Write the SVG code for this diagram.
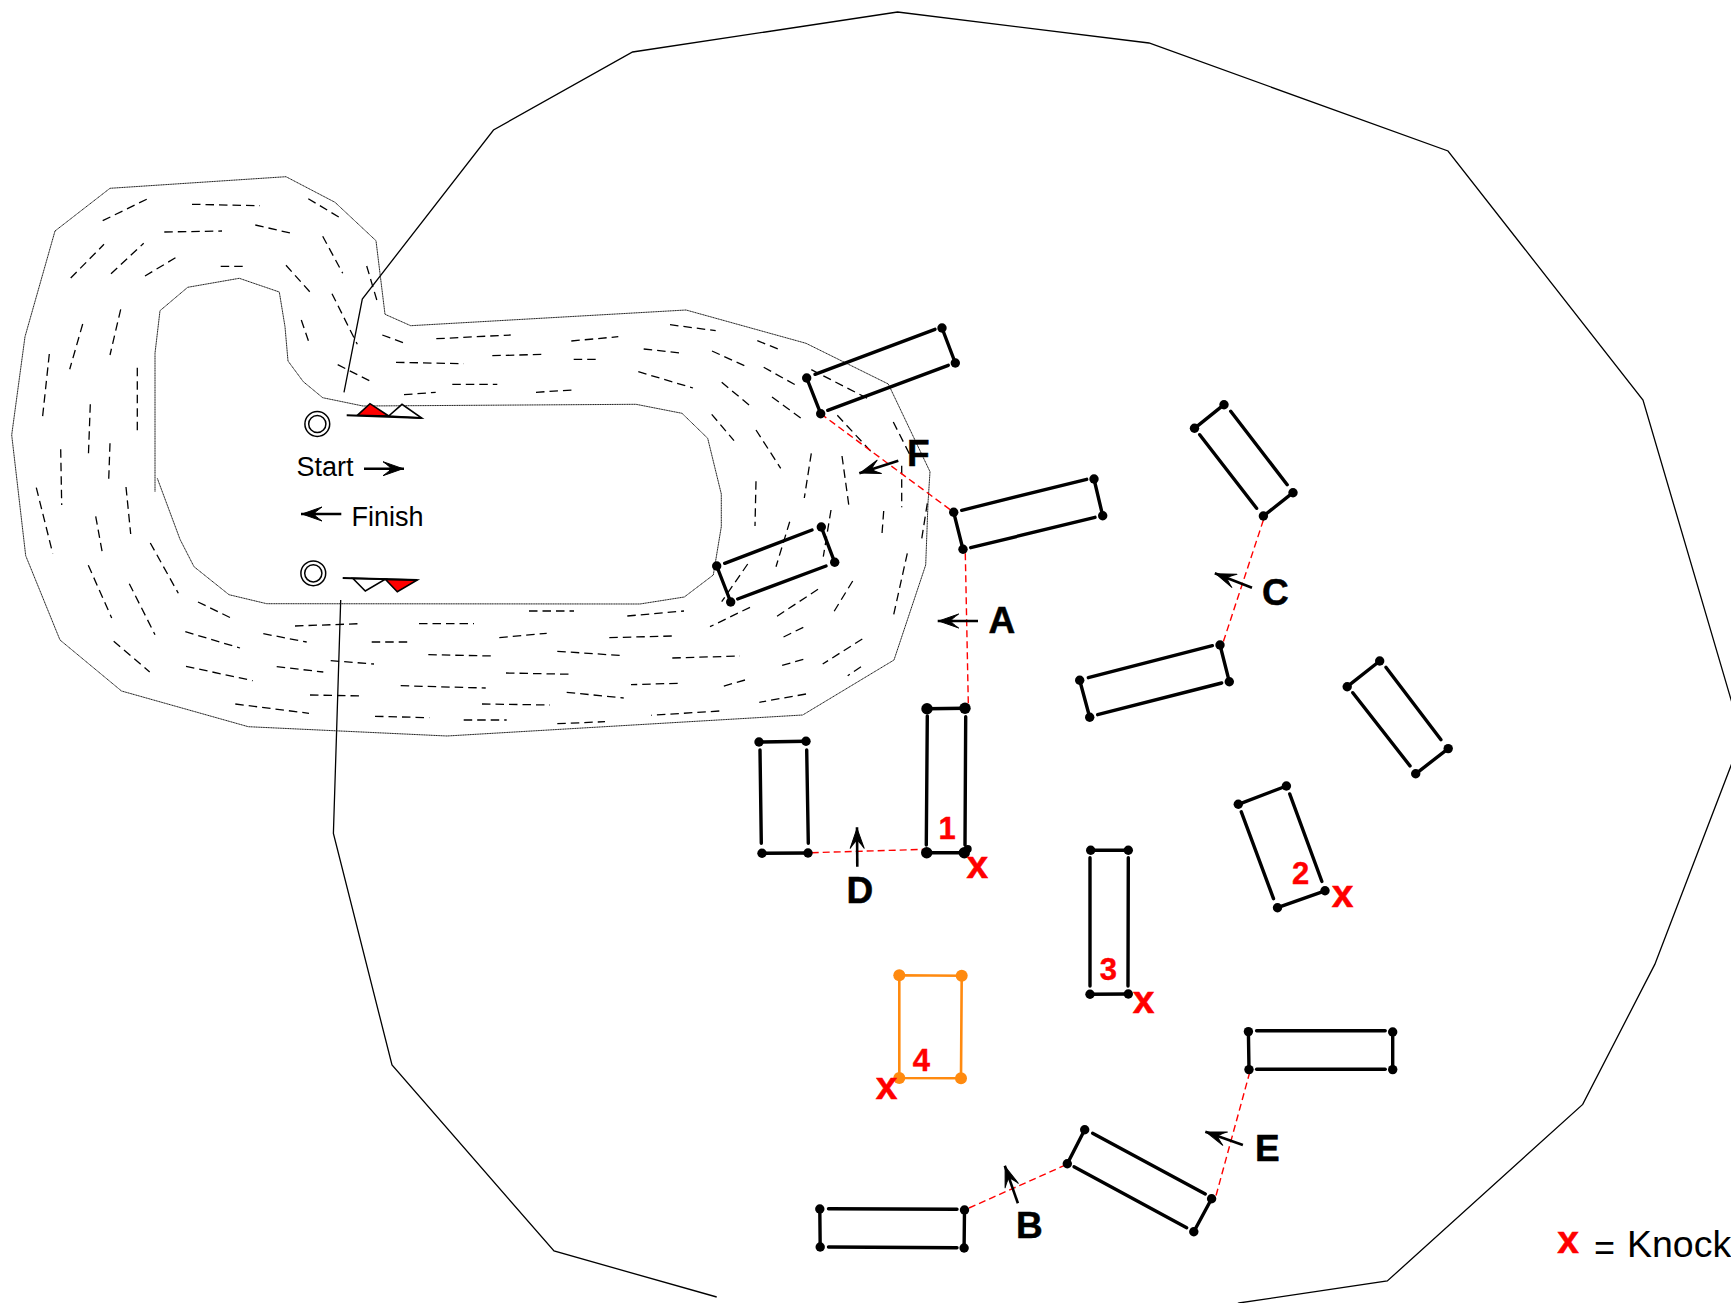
<svg xmlns="http://www.w3.org/2000/svg" width="1731" height="1303" viewBox="0 0 1731 1303">
<style>
text{font-family:"Liberation Sans",Arial,sans-serif}
.bg{fill:#fff}
.outline{fill:none;stroke:#000;stroke-width:1.3;stroke-linejoin:miter}
.track{fill:none;stroke:#222;stroke-width:1;stroke-dasharray:1.4 .3}
.dash{fill:none;stroke:#000;stroke-width:1.3;stroke-dasharray:8.5 5}
.stall line{stroke:#000;stroke-width:3.4;stroke-linecap:round}
.stall circle{fill:#000}
.orange path{fill:none;stroke:#ff8a0f;stroke-width:2.6}
.orange circle{fill:#ff8a0f}
.knock{fill:none;stroke:#f00;stroke-width:1.4;stroke-dasharray:7 4}
.arr{fill:none;stroke:#000;stroke-width:2.6;marker-end:url(#head)}
.lab{font-weight:bold;font-size:37px;fill:#000;stroke:#000;stroke-width:.5}
.num{font-weight:bold;font-size:31px;fill:#f00;stroke:#f00;stroke-width:.4;text-anchor:middle}
.x{font-weight:bold;font-size:39px;fill:#f00;stroke:#f00;stroke-width:.5;text-anchor:middle}
.plain{font-size:27px;fill:#000}
.ring{fill:none;stroke:#000;stroke-width:1.5}
.flag{stroke:#000;stroke-width:1.6;stroke-linejoin:miter}
.flagline{stroke:#000;stroke-width:2;fill:none}
</style>
<defs>
<marker id="head" markerUnits="userSpaceOnUse" markerWidth="26" markerHeight="20" refX="23" refY="10" orient="auto">
<path d="M22 10 L2 3 Q9 8 10 10 Q9 12 2 17 Z" fill="#000" stroke="#000" stroke-width="1" stroke-linejoin="round"/>
</marker>
</defs>
<rect class="bg" width="1731" height="1303"/>
<g id="boundary">
<polyline class="outline" points="344,392.3 362.3,299 493.5,130 632.6,52 897.6,12 1149,43 1448,151 1643,400 1742,737 1654.8,964.4 1582.7,1104.4 1387.3,1281 1239,1303 1200,1320"/>
<polyline class="outline" points="340.7,600 333.4,833.5 392,1065 554,1251 716.7,1297"/>
</g>
<g id="track">
<polyline class="track" points="55,231 110,188.3 286,176.7 335,202.3 376,240.7 385,314.3 410.7,325.7 686,310 806,343.3 888.3,384 930,471.7 928,503 925.7,565 894,660 802.7,715 447,736 248.3,726.7 121.5,691 60,640 25.7,555.7 11.7,435 25,336.7 55,231"/>
<polyline class="track" points="155,491.7 155,353.3 160,310.7 187.7,287.3 239.3,278.3 279.3,292 285,326.7 288,361 303.3,381.7 322.7,397.7 363,406 636,404.3 682,413.3 707.7,438.3 721.3,494 721.3,526.7 713.3,575 684.3,597 640,604 266.7,603.7 229,594.7 194,566.7 180,539.3 157.3,478.3"/>
</g>
<g id="track-dashes" class="dash">
<path d="M102.7 220.7L150.7 197.3M192 204.3L260 205.7M308.3 198.7L340 217.7M164.3 232L222 231M255.3 225L290.3 233M322.7 236.3L342.7 273.3M70.7 278L104 244.3M111 273.7L143.7 243.3M145 276L176.7 257M220.7 266.3L246 266.3M286 265.3L310 292M366.7 266L377.3 301.7M332 293.7L357.3 344.3M301.3 320L308.7 341.7M120.7 309.3L110 355M82.7 324L69.7 369.3M49.3 354L42.3 419.3M137.3 367.7L137.3 435.3M90.3 404.3L88.3 458.3M110 443.3L108.7 480M60.7 449.3L61.7 505M36.3 487.7L52.7 553.3M126 487L130.7 534M95.7 516.3L102.3 552.7M150.3 543L178.3 593.3M88.3 565.3L111.7 618M129.3 583.7L155 634.7M198 602L231 618M295 626L359.3 623.7M263.3 633.7L306.7 642M185.3 631.7L240 648M371.7 642L408.7 642M419 623.7L474 623.7M330.7 660.7L374 664M276.7 666.7L323.3 672M113.7 641.3L149.7 672M186 666.3L252.7 680.7M428.3 654.7L493.3 656M310 695L362.7 696M400.7 685.7L485.7 688M235.3 704L309 713.3M375 716.3L429.3 717.7M463.7 720L506.7 720M529 611L574 611M627.3 616L684 611M499.3 637.7L546.7 633.3M609.3 637.7L672 636M557.3 651.3L624 655.7M672.3 658L740 656"/>
<path d="M436.3 338.7L510.7 335M571.3 341L618.3 336.7M670 324.7L715.7 330.7M757.3 340.7L778.3 349M492.3 355.7L545 354.3M396 362.3L463.7 363.7M573.7 359.3L600 359.3M643.7 349L680 353M712 351L745.7 366.3M763.7 367.3L795 384.7M811.3 369.7L870.7 400M452.3 384.3L497.3 384.3M536 392.3L573 390M638.3 371.7L693 388M721.7 382.3L750 405.7M772 397L801.7 418.7M837.3 415.3L873.3 454M893.3 422L910 455M711.7 414.3L734 440.7M756 430L780.7 468.3M811.3 453.3L804.3 498M842 456L849.3 508.7M901.7 465.7L901.7 507.3M756 481.3L755 526M883.7 511L881.7 537.7M927.3 503.3L921.7 539M831 510L823.3 556.7M789.7 521.7L776 566.7M747.7 564L721.7 601.7M907.3 553.3L892.7 619M852.7 581L833.3 612.7M818 589.3L773.3 618.7M750 607.3L710 626.7M803.3 627.3L780 638.7M862.3 639L822.7 664M803.3 659.3L779 666.3M506 673L572.7 674.3M861 666.7L847.7 675.7M745 680L719.3 687.3M677.7 683.3L631 684.7M566.7 692.3L623.7 698M482 704L550 705M806 694L759.3 702.3M719.3 711L651.3 715.3M557.3 723.7L605 721.7M382.3 335L407 344M337.7 364.7L369.3 380.7M404 394.7L435.7 392.3"/>
</g>
<g id="start-gate">
<circle class="ring" cx="317.3" cy="424" r="12.4"/><circle class="ring" cx="317.3" cy="424" r="8.6"/>
<polygon class="flag" fill="#f00" points="357.3,415.3 370,403.7 388.7,416"/>
<polygon class="flag" fill="#fff" points="388.7,416 402,404.3 421.7,418"/>
<line class="flagline" x1="346.7" y1="415.3" x2="421.7" y2="418"/>
<text class="plain" x="296.5" y="476">Start</text>
</g>
<g id="finish-gate">
<circle class="ring" cx="313.3" cy="573.3" r="12.4"/><circle class="ring" cx="313.3" cy="573.3" r="8.6"/>
<polygon class="flag" fill="#fff" points="352.7,578.3 365.3,591 385.3,579.3"/>
<polygon class="flag" fill="#f00" points="385.3,579.3 397.3,591.7 417.3,580"/>
<line class="flagline" x1="342.7" y1="578" x2="417.3" y2="580"/>
<text class="plain" x="351.5" y="526">Finish</text>
</g>
<g id="connectors">
<line class="knock" x1="820.7" y1="413.7" x2="953.7" y2="512.3"/>
<line class="knock" x1="965.3" y1="553.3" x2="968.3" y2="703.3"/>
<line class="knock" x1="1263.4" y1="520" x2="1222.8" y2="643.3"/>
<line class="knock" x1="811.7" y1="852.7" x2="926.7" y2="849.3"/>
<line class="knock" x1="1249.8" y1="1072" x2="1215.9" y2="1196"/>
<line class="knock" x1="969" y1="1208" x2="1064" y2="1165.7"/>
<line class="arr" x1="978" y1="621" x2="937.7" y2="621"/>
<line class="arr" x1="898.3" y1="460.7" x2="859.3" y2="473.3"/>
<line class="arr" x1="1252" y1="587.7" x2="1214.8" y2="573.3"/>
<line class="arr" x1="857.3" y1="866.7" x2="857" y2="827.3"/>
<line class="arr" x1="1242.9" y1="1145" x2="1205.3" y2="1131.7"/>
<line class="arr" x1="1017.9" y1="1203.3" x2="1004.8" y2="1165.7"/>
<line class="arr" x1="364" y1="468.7" x2="404" y2="468.7"/>
<line class="arr" x1="341.3" y1="514" x2="301" y2="514"/>
</g>
<g id="stall-f1" class="stall">
<line x1="806.7" y1="378" x2="820.7" y2="413.7"/><line x1="942" y1="328" x2="955.3" y2="363"/>
<line x1="815" y1="374.3" x2="935" y2="329.3"/><line x1="827.7" y1="410.3" x2="948.3" y2="365.3"/>
<circle cx="806.7" cy="378" r="4.7"/><circle cx="820.7" cy="413.7" r="4.7"/><circle cx="942" cy="328" r="4.7"/><circle cx="955.3" cy="363" r="4.7"/>
</g>
<g id="stall-a" class="stall">
<line x1="953.7" y1="512.3" x2="963" y2="549.3"/><line x1="1094" y1="479" x2="1102.7" y2="515.7"/>
<line x1="961.7" y1="510.3" x2="1086.7" y2="479.3"/><line x1="970.7" y1="547.7" x2="1095" y2="517.3"/>
<circle cx="953.7" cy="512.3" r="4.7"/><circle cx="963" cy="549.3" r="4.7"/><circle cx="1094" cy="479" r="4.7"/><circle cx="1102.7" cy="515.7" r="4.7"/>
</g>
<g id="stall-track" class="stall">
<line x1="716.7" y1="566" x2="730.7" y2="602"/><line x1="821.3" y1="527" x2="834.7" y2="562.3"/>
<line x1="724.7" y1="563.3" x2="812" y2="530"/><line x1="737.7" y1="599" x2="826" y2="566"/>
<circle cx="716.7" cy="566" r="4.7"/><circle cx="730.7" cy="602" r="4.7"/><circle cx="821.3" cy="527" r="4.7"/><circle cx="834.7" cy="562.3" r="4.7"/>
</g>
<g id="stall-c1" class="stall">
<line x1="1224" y1="404.7" x2="1194.5" y2="428.3"/><line x1="1293" y1="492.7" x2="1263.4" y2="516"/>
<line x1="1230.7" y1="411.3" x2="1287.2" y2="484.7"/><line x1="1199.7" y1="434.7" x2="1256.6" y2="508.3"/>
<circle cx="1224" cy="404.7" r="4.7"/><circle cx="1194.5" cy="428.3" r="4.7"/><circle cx="1293" cy="492.7" r="4.7"/><circle cx="1263.4" cy="516" r="4.7"/>
</g>
<g id="stall-c2" class="stall">
<line x1="1220" y1="645" x2="1229.3" y2="681.7"/><line x1="1079.7" y1="680.3" x2="1089.7" y2="717.3"/>
<line x1="1212.4" y1="645.7" x2="1088.3" y2="677.7"/><line x1="1221.7" y1="683" x2="1097.6" y2="714.7"/>
<circle cx="1220" cy="645" r="4.7"/><circle cx="1229.3" cy="681.7" r="4.7"/><circle cx="1079.7" cy="680.3" r="4.7"/><circle cx="1089.7" cy="717.3" r="4.7"/>
</g>
<g id="stall-right" class="stall">
<line x1="1379.7" y1="661" x2="1347.2" y2="686.7"/><line x1="1448.2" y1="748.6" x2="1415.7" y2="773.8"/>
<line x1="1385.9" y1="667.3" x2="1441" y2="739.7"/><line x1="1352.8" y1="692.7" x2="1410" y2="765.9"/>
<circle cx="1379.7" cy="661" r="4.7"/><circle cx="1347.2" cy="686.7" r="4.7"/><circle cx="1448.2" cy="748.6" r="4.7"/><circle cx="1415.7" cy="773.8" r="4.7"/>
</g>
<g id="stall-2" class="stall">
<line x1="1238.3" y1="804.3" x2="1286.4" y2="786"/><line x1="1277.5" y1="907.7" x2="1325" y2="890.8"/>
<line x1="1241.3" y1="811.8" x2="1273.5" y2="898.7"/><line x1="1289.7" y1="793.9" x2="1321.9" y2="881.5"/>
<circle cx="1238.3" cy="804.3" r="4.7"/><circle cx="1286.4" cy="786" r="4.7"/><circle cx="1277.5" cy="907.7" r="4.7"/><circle cx="1325" cy="890.8" r="4.7"/>
<text class="num" x="1300.6" y="883.6">2</text><text class="x" x="1342.6" y="906.6">x</text>
</g>
<g id="stall-e" class="stall">
<line x1="1248.4" y1="1031.6" x2="1249" y2="1069.6"/><line x1="1392.7" y1="1032" x2="1392.7" y2="1069.6"/>
<line x1="1256.6" y1="1030.8" x2="1385.2" y2="1030.8"/><line x1="1256.6" y1="1069.3" x2="1385.2" y2="1069.3"/>
<circle cx="1248.4" cy="1031.6" r="4.7"/><circle cx="1249" cy="1069.6" r="4.7"/><circle cx="1392.7" cy="1032" r="4.7"/><circle cx="1392.7" cy="1069.6" r="4.7"/>
</g>
<g id="stall-be" class="stall">
<line x1="1084.7" y1="1129.7" x2="1067.3" y2="1163.7"/><line x1="1211.6" y1="1198.7" x2="1193.8" y2="1231.7"/>
<line x1="1092.6" y1="1133.3" x2="1205.3" y2="1194"/><line x1="1074" y1="1166.7" x2="1186.7" y2="1227.7"/>
<circle cx="1084.7" cy="1129.7" r="4.7"/><circle cx="1067.3" cy="1163.7" r="4.7"/><circle cx="1211.6" cy="1198.7" r="4.7"/><circle cx="1193.8" cy="1231.7" r="4.7"/>
</g>
<g id="stall-b" class="stall">
<line x1="819.8" y1="1209" x2="820.2" y2="1247"/><line x1="964.5" y1="1210" x2="964.1" y2="1248"/>
<line x1="828.5" y1="1208.7" x2="957" y2="1209.3"/><line x1="828.5" y1="1247" x2="957" y2="1247.7"/>
<circle cx="819.8" cy="1209" r="4.7"/><circle cx="820.2" cy="1247" r="4.7"/><circle cx="964.5" cy="1210" r="4.7"/><circle cx="964.1" cy="1248" r="4.7"/>
</g>
<g id="stall-d" class="stall">
<line x1="759" y1="742" x2="806" y2="741.3"/><line x1="762" y1="853.3" x2="808" y2="853"/>
<line x1="760" y1="750" x2="761.3" y2="843.3"/><line x1="806.7" y1="750" x2="808.3" y2="843.3"/>
<circle cx="759" cy="742" r="4.7"/><circle cx="806" cy="741.3" r="4.7"/><circle cx="762" cy="853.3" r="4.7"/><circle cx="808" cy="853" r="4.7"/>
</g>
<g id="stall-1" class="stall">
<line x1="927" y1="708.7" x2="965" y2="708.3"/><line x1="926.7" y1="852.7" x2="964.3" y2="852.7"/>
<line x1="927.3" y1="716" x2="926.3" y2="845"/><line x1="965.7" y1="716.7" x2="965" y2="845"/>
<circle cx="927" cy="708.7" r="5.7"/><circle cx="965" cy="708.3" r="5.7"/><circle cx="926.7" cy="852.7" r="5.7"/><circle cx="964.3" cy="852.7" r="5.7"/><circle cx="967.7" cy="849" r="4"/>
<text class="num" x="947" y="839.3">1</text><text class="x" x="977.3" y="877.7">x</text>
</g>
<g id="stall-3" class="stall">
<line x1="1090.7" y1="850.3" x2="1128.3" y2="850.3"/><line x1="1090" y1="994.3" x2="1128.3" y2="994"/>
<line x1="1090" y1="857.7" x2="1090" y2="986"/><line x1="1128.3" y1="857.7" x2="1128" y2="986"/>
<circle cx="1090.7" cy="850.3" r="4.7"/><circle cx="1128.3" cy="850.3" r="4.7"/><circle cx="1090" cy="994.3" r="4.7"/><circle cx="1128.3" cy="994" r="4.7"/>
<text class="num" x="1108.3" y="980">3</text><text class="x" x="1143.7" y="1013.3">x</text>
</g>
<g id="stall-4" class="orange">
<path d="M899.3 975.3L961.7 975.7L961 1078.3L899.3 1078Z"/>
<circle cx="899.3" cy="975.3" r="6"/><circle cx="961.7" cy="975.7" r="6"/><circle cx="899.3" cy="1078" r="6"/><circle cx="961" cy="1078.3" r="6"/>
<text class="num" x="921.3" y="1070.7">4</text><text class="x" x="886.7" y="1099.3">x</text>
</g>
<g id="labels">
<text class="lab" x="907" y="466">F</text>
<text class="lab" x="988.5" y="632.7">A</text>
<text class="lab" x="1262" y="605">C</text>
<text class="lab" x="846.5" y="903.3">D</text>
<text class="lab" x="1016" y="1238.3">B</text>
<text class="lab" x="1255" y="1160.7">E</text>
</g>
<g id="legend">
<text class="x" x="1568" y="1252.7">x</text>
<text x="1594" y="1260" font-size="36">=</text>
<text x="1627" y="1257" font-size="37.5">Knock</text>
</g>
</svg>
